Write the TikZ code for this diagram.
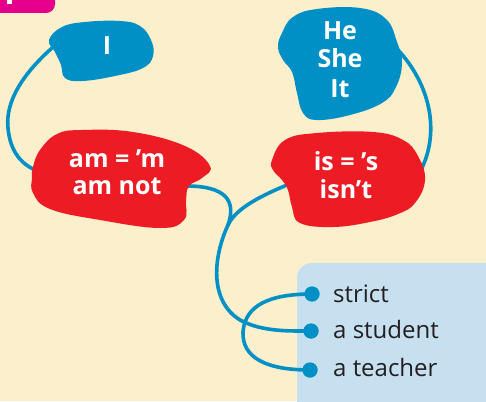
\documentclass[tikz,border=0pt]{standalone}
\usepackage{fontspec}
\setmainfont{Open Sans}
\definecolor{bg}{HTML}{FCEFCB}
\definecolor{blobblue}{HTML}{0090C6}
\definecolor{blobred}{HTML}{ED1C24}
\definecolor{boxblue}{HTML}{C6E0EF}
\definecolor{tabpink}{HTML}{E4008B}
\definecolor{darktext}{HTML}{231F20}
\tikzset{
  conn/.style={draw=blobblue, line width=3.6pt, line cap=round},
  blobtext/.style={text=white, inner sep=0pt, anchor=base, font=\fontsize{25}{28}\selectfont\bfseries},
  itemtext/.style={text=darktext, inner sep=0pt, anchor=base west, font=\fontsize{24}{28}\selectfont},
  bulletdot/.style={circle, fill=blobblue, minimum size=15pt, inner sep=0pt}
}
\begin{document}
\begin{tikzpicture}[x=1pt,y=-1pt]
\useasboundingbox (0,0) rectangle (486,401);
\fill[bg] (0,0) rectangle (486,401);
\begin{scope}
\clip (0,0) rectangle (486,401);
\fill[boxblue, rounded corners=15pt] (297,263) rectangle (530,450);
\fill[tabpink, rounded corners=9pt] (-30,-30) rectangle (55,13);
\fill[white] (7,-2) rectangle (12,4);
\end{scope}
% coordinates
\coordinate (iout) at (52,48);
\coordinate (amin) at (40,172);
\coordinate (amout) at (182,186);
\coordinate (heout) at (398,50);
\coordinate (isin) at (420,172);
\coordinate (isout) at (292,183);
\coordinate (join) at (228,225);
\node[bulletdot] (b1) at (312,294) {};
\node[bulletdot] (b2) at (311,331) {};
\node[bulletdot] (b3) at (310,370) {};
% connectors
\draw[conn] (iout) .. controls (25,72) and (5,100) .. (8,128) .. controls (10,150) and (20,165) .. (amin);
\draw[conn] (amout) .. controls (228,185) and (236,202) .. (join) .. controls (214,255) and (208,300) .. (240,320) .. controls (262,332) and (290,331) .. (b2.center);
\draw[conn] (isout) .. controls (262,195) and (236,208) .. (join);
\draw[conn] (heout) .. controls (428,82) and (442,130) .. (isin);
\draw[conn] (b1.center) .. controls (270,294) and (245,305) .. (243,332) .. controls (242,357) and (265,370) .. (b3.center);
% blobs
\fill[blobblue] plot[smooth cycle, tension=0.7] coordinates {(49,40) (62,27) (85,22) (120,21) (140,26) (151,40) (153,56) (143,68) (115,76) (82,81) (65,78) (61,65) (55,52)};
\fill[blobblue] plot[smooth cycle, tension=0.7] coordinates {(282,33) (293,17) (317,9) (360,8) (386,19) (397,42) (402,63) (396,87) (382,103) (350,115) (317,120) (303,113) (297,93) (292,72) (283,60) (278,47)};
\fill[blobred] plot[smooth cycle, tension=0.7] coordinates {(33,167) (40,150) (57,134) (82,130) (133,132) (185,146) (210,166) (202,178) (189,186) (186,200) (184,220) (160,228) (100,220) (50,209) (33,193) (32,178)};
\fill[blobred] plot[smooth cycle, tension=0.7] coordinates {(272,160) (285,140) (317,133) (373,132) (403,140) (418,156) (425,180) (415,203) (398,214) (370,222) (333,227) (300,223) (292,207) (288,190) (282,180) (273,170)};
\node[bulletdot] at (b1) {};
\node[bulletdot] at (b2) {};
\node[bulletdot] at (b3) {};
% texts
\node[blobtext] (ti) at (107,55) {I};
\node[blobtext] (the) at (340,40) {He};
\node[blobtext] (tshe) at (340,68) {She};
\node[blobtext] (tit) at (340,97) {It};
\node[blobtext] (tam1) at (117,167) {am = ’m};
\node[blobtext] (tam2) at (117,194) {am not};
\node[blobtext] (tis1) at (346,170) {is = ’s};
\node[blobtext] (tis2) at (346,198) {isn’t};
\node[itemtext] (t1) at (333,302) {strict};
\node[itemtext] (t2) at (333,338) {a student};
\node[itemtext] (t3) at (333,376) {a teacher};
\end{tikzpicture}
\end{document}
